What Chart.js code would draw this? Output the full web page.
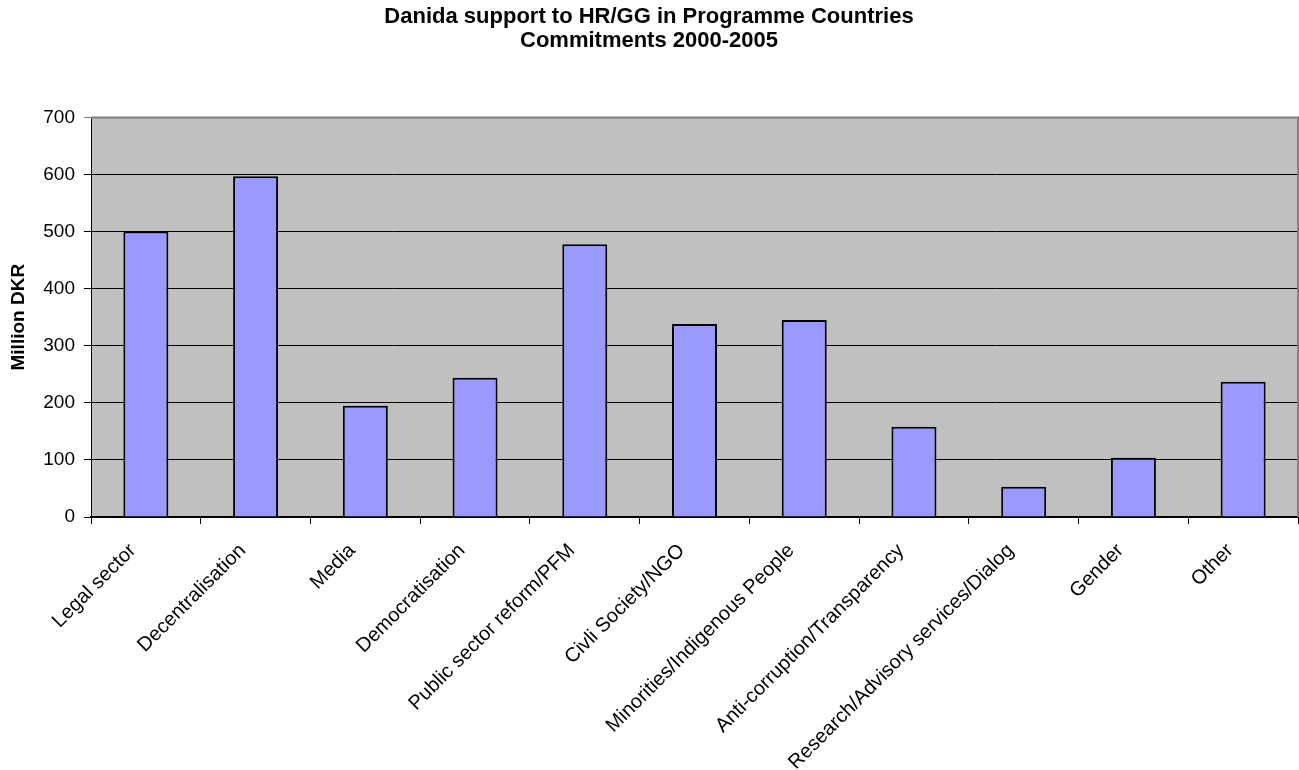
<!DOCTYPE html>
<html>
<head>
<meta charset="utf-8">
<script src="https://cdn.jsdelivr.net/npm/chart.js@4.4.0/dist/chart.umd.min.js"></script>
<style>
  body { margin: 0; background: #fff; }
  #wrap { width: 1299px; height: 770px; }
</style>
</head>
<body>
<div id="wrap"><canvas id="chart"></canvas></div>
<script>
// sectors, as on the x axis
const SECTORS = [
  "Legal sector",
  "Decentralisation",
  "Media",
  "Democratisation",
  "Public sector reform/PFM",
  "Civli Society/NGO",
  "Minorities/Indigenous People",
  "Anti-corruption/Transparency",
  "Research/Advisory services/Dialog",
  "Gender",
  "Other",
];
// million DKR committed 2000-2005
const COMMITMENTS = [500, 597, 195, 244, 478, 338, 345, 158, 53, 104, 237];
const Y_MIN = 0;
const Y_MAX = 700;
const Y_STEP = 100;

const FONT = "'Liberation Sans', Arial, sans-serif";

// grey plot area with the thin grey frame on top/right
const plotFrame = {
  id: "plotFrame",
  beforeDraw(chart) {
    const { ctx, chartArea: a } = chart;
    ctx.save();
    ctx.fillStyle = "#c0c0c0";
    ctx.fillRect(a.left, a.top, a.right - a.left, a.bottom - a.top);
    ctx.restore();
  },
  afterDraw(chart) {
    const { ctx, chartArea: a } = chart;
    ctx.save();
    ctx.strokeStyle = "#808080";
    ctx.lineWidth = 2;
    ctx.beginPath();
    ctx.moveTo(a.left, a.top);
    ctx.lineTo(a.right, a.top);
    ctx.lineTo(a.right, a.bottom);
    ctx.stroke();
    ctx.restore();
  }
};

function makeBarChart() {
  const ctx = document.getElementById("chart");
  return new Chart(ctx, {
    type: "bar",
    data: {
      labels: SECTORS,
      datasets: [{
        data: COMMITMENTS,
        backgroundColor: "#9999ff",
        borderColor: "#000000",
        borderWidth: 2,
        barPercentage: 0.41,
        categoryPercentage: 1,
      }],
    },
    plugins: [plotFrame],
    options: {
      responsive: true,
      maintainAspectRatio: false,
      animation: false,
      layout: { padding: { right: 1 } },
      plugins: {
        legend: { display: false },
        tooltip: { enabled: false },
        title: {
          display: true,
          text: ["Danida support to HR/GG in Programme Countries", "Commitments 2000-2005"],
          color: "#000",
          font: { family: FONT, size: 22, weight: "bold", lineHeight: 1.1 },
          padding: { top: 5, bottom: 64 },
        },
      },
      scales: {
        x: {
          afterFit(scale) { scale.height = 253; },
          grid: {
            display: true,
            offset: true,
            drawOnChartArea: false,
            tickLength: 7,
            color: "#000",
          },
          border: { display: true, color: "#000", width: 2 },
          ticks: {
            autoSkip: false,
            maxRotation: 45,
            minRotation: 45,
            padding: 15,
            labelOffset: -13,
            color: "#000",
            font: { family: FONT, size: 20 },
          },
        },
        y: {
          min: Y_MIN,
          max: Y_MAX,
          afterFit(scale) { scale.width = 91; },
          grid: {
            color: ctx => ctx.tick && ctx.tick.value === Y_MAX ? "#808080" : "#000",
            tickLength: 7,
          },
          border: { display: true, color: "#000", width: 1 },
          ticks: {
            stepSize: Y_STEP,
            padding: 9,
            color: "#000",
            font: { family: FONT, size: 19 },
          },
          title: {
            display: true,
            text: "Million DKR",
            color: "#000",
            font: { family: FONT, size: 19, weight: "bold" },
            padding: { top: 7, bottom: 0 },
          },
        },
      },
    },
  });
}

makeBarChart();
</script>
</body>
</html>
